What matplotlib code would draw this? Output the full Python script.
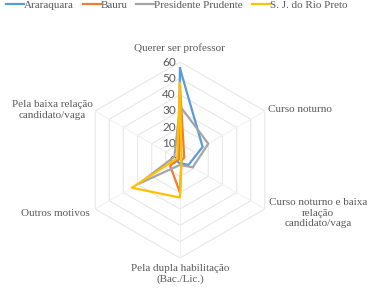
import numpy as np
import matplotlib.pyplot as plt
from matplotlib import transforms

plt.rcParams['font.family'] = ['Liberation Serif', 'DejaVu Serif']

categorias = ['Querer ser professor', 'Curso noturno',
              'Curso noturno e baixa\nrelação\ncandidato/vaga',
              'Pela dupla habilitação\n(Bac./Lic.)', 'Outros motivos',
              'Pela baixa relação\ncandidato/vaga']
araraquara = [56, 16, 6, 2, 2, 1]
bauru = [45, 3, 1, 20, 7, 1]
pres_prudente = [33, 20, 9, 3, 29, 4]
rio_preto = [47, 1, 1, 23, 34, 2]
series = ['Araraquara', 'Bauru', 'Presidente Prudente', 'S. J. do Rio Preto']
cores = ['#5B9BD5', '#ED7D31', '#A5A5A5', '#FFC000']
niveis = [0, 10, 20, 30, 40, 50, 60]

cinza = '#595959'
n = len(categorias)
ang = np.linspace(0, 2 * np.pi, n, endpoint=False)
ang_f = np.append(ang, ang[0])

fig = plt.figure(figsize=(3.72, 2.91), dpi=100)
cx, cy = 180 / 372, 1 - 160 / 291
rw, rh = 98 / 372, 98 / 291
ax = fig.add_axes([cx - rw, cy - rh, 2 * rw, 2 * rh], projection='polar')
ax.set_theta_offset(np.pi / 2)
ax.set_theta_direction(-1)
ax.set_ylim(0, 60)
ax.grid(False)
ax.spines['polar'].set_visible(False)
ax.set_xticks([])
ax.set_yticks([])
ax.patch.set_alpha(0)

# grade hexagonal
for r in niveis[1:]:
    ax.plot(ang_f, [r] * (n + 1), color='#e6e6e6', lw=0.8, zorder=1)
for a in ang:
    ax.plot([a, a], [0, 60], color='#ededed', lw=0.6, zorder=1)

# rótulos da escala
off = transforms.offset_copy(ax.transData, fig=fig, x=-4, y=0, units='dots')
for r in niveis:
    ax.text(0, r, str(r), transform=off, ha='right', va='center',
            fontsize=8.5, color=cinza, family=['Lato', 'DejaVu Sans'])

linhas = []
for nome, vals, c in zip(series, [araraquara, bauru, pres_prudente, rio_preto], cores):
    l, = ax.plot(ang_f, vals + vals[:1], color=c, lw=1.6, label=nome, zorder=3)
    linhas.append(l)

# rótulos das categorias (posição em pixels da figura)
pos = [(179, 48, 'center'), (268, 109, 'left'), (318, 213, 'center'),
       (180, 274, 'center'), (90, 213, 'right'), (52, 110, 'center')]
for txt, (x, y, ha) in zip(categorias, pos):
    fig.text(x / 372, 1 - y / 291, txt, ha=ha, va='center', fontsize=8,
             color=cinza, linespacing=1.25)

fig.legend(handles=linhas, loc='upper left', bbox_to_anchor=(-0.01, 1.035),
           ncol=4, frameon=False, fontsize=8, handlelength=1.6,
           handletextpad=0.0, columnspacing=0.8, labelcolor=cinza)

fig.savefig('out.png', dpi=100)
